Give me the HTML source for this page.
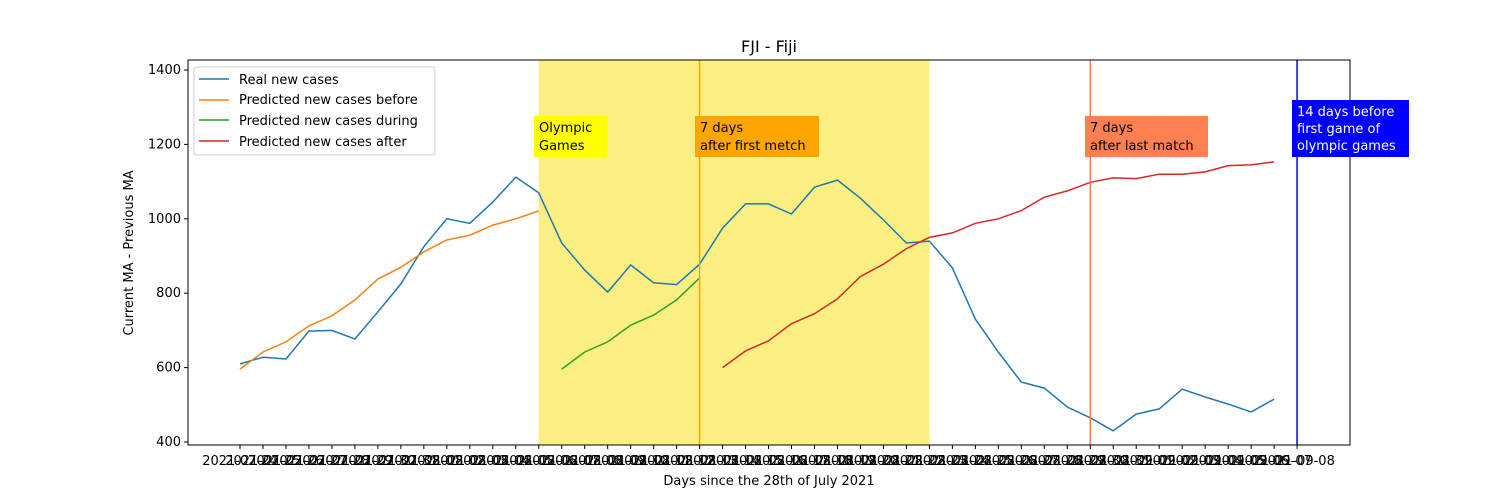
<!DOCTYPE html>
<html><head><meta charset="utf-8"><style>
body{margin:0;background:#fff;}
svg{display:block;font-family:"DejaVu Sans","Liberation Sans",sans-serif;}
</style></head><body>
<svg id="chart" width="1500" height="500">
<g id="bg"></g><g id="lines"></g><g id="axes"></g><g id="ann"></g>
</svg>
<script>
const startDate = "2021-07-24";
const realCases = [610,628,623,698,700,677,750,825,925,1000,988,1045,1112,1070,935,862,803,876,828,823,878,975,1040,1040,1013,1085,1104,1055,997,935,940,868,730,642,561,545,494,465,430,475,489,542,521,502,481,515];
const predBefore = [596,642,669,712,739,782,838,870,911,943,956,983,1000,1021];
const predDuring = [596,642,669,714,741,782,841];
const predAfter = [600,645,672,718,745,785,845,878,920,950,962,988,1000,1022,1058,1075,1098,1110,1108,1120,1120,1126,1143,1145,1153];
const beforeStart = 0, duringStart = 14, afterStart = 21;
const yTicks = [400,600,800,1000,1200,1400];
const olympicSpan = [13,30];
const firstMatchIdx = 20, lastMatchIdx = 37, beforeGamesIdx = 46;
const nTicks = 47;

const NS="http://www.w3.org/2000/svg";
const L=188,R=1350,T=60,B=445;
const X=i=>240+i*22.98;
const Y=v=>442-(v-400)*0.372;
function el(tag,attrs,parent,text){const e=document.createElementNS(NS,tag);for(const k in attrs)e.setAttribute(k,attrs[k]);if(text!==undefined)e.textContent=text;document.getElementById(parent).appendChild(e);return e;}

let e=el('rect',{x:X(olympicSpan[0]),y:T,width:X(olympicSpan[1])-X(olympicSpan[0]),height:B-T,fill:'#fcef82'},'bg');



function series(vals,start,color,name){
  const pts=vals.map((v,i)=>X(start+i).toFixed(1)+','+Y(v).toFixed(1)).join(' ');
  const p=el('polyline',{points:pts,fill:'none',stroke:color,'stroke-width':1.5},'lines');
  
  
}
series(realCases,0,'#1f77b4','real-cases-line');
series(predBefore,beforeStart,'#ff7f0e','predicted-before-line');
series(predDuring,duringStart,'#2ca02c','predicted-during-line');
series(predAfter,afterStart,'#d62728','predicted-after-line');

function vline(i,color,name){const l=el('line',{x1:X(i),x2:X(i),y1:T,y2:B,stroke:color,'stroke-width':1.5},'lines');

}
vline(firstMatchIdx,'#ffa500','first-match-line');
vline(lastMatchIdx,'#ff7f50','last-match-line');
vline(beforeGamesIdx,'#0000ff','before-games-line');

// axes
let f=el('rect',{x:L,y:T,width:R-L,height:B-T,fill:'none',stroke:'#000','stroke-width':1},'axes');


yTicks.forEach(v=>{
  el('line',{x1:L-4,x2:L,y1:Y(v),y2:Y(v),stroke:'#000'},'axes');
  const t=el('text',{x:L-7,y:Y(v)+4,'text-anchor':'end','font-size':13},'axes',v);
  
  
});
const d0=new Date(startDate+"T00:00:00Z");
for(let i=0;i<nTicks;i++){
  el('line',{x1:X(i),x2:X(i),y1:B,y2:B+4,stroke:'#000'},'axes');
  const d=new Date(d0.getTime()+i*86400000).toISOString().slice(0,10);
  const t=el('text',{x:X(i),y:B+20,'text-anchor':'middle','font-size':13},'axes',d);
  
  
}
</script>
<svg width="0" height="0"></svg>
<div style="position:absolute;left:0;top:0;width:1500px;height:500px;pointer-events:none;">
<svg width="1500" height="500" style="position:absolute;left:0;top:0">
<text x="769" y="52" text-anchor="middle" font-size="16" font-family="DejaVu Sans,sans-serif">FJI - Fiji</text>
<text x="769" y="485" text-anchor="middle" font-size="13" font-family="DejaVu Sans,sans-serif">Days since the 28th of July 2021</text>
<text transform="translate(133,253) rotate(-90)" text-anchor="middle" font-size="13" font-family="DejaVu Sans,sans-serif">Current MA - Previous MA</text>
<g font-family="DejaVu Sans,sans-serif" font-size="13">
<rect x="194" y="67" width="241" height="88" rx="3" fill="#fff" fill-opacity="0.8" stroke="#ccc"/>
<line x1="199" x2="229" y1="79" y2="79" stroke="#1f77b4" stroke-width="1.5"/><text x="239" y="84">Real new cases</text>
<line x1="199" x2="229" y1="100" y2="100" stroke="#ff7f0e" stroke-width="1.5"/><text x="239" y="104">Predicted new cases before</text>
<line x1="199" x2="229" y1="120" y2="120" stroke="#2ca02c" stroke-width="1.5"/><text x="239" y="125">Predicted new cases during</text>
<line x1="199" x2="229" y1="141" y2="141" stroke="#d62728" stroke-width="1.5"/><text x="239" y="146">Predicted new cases after</text>
</g>
<g font-family="DejaVu Sans,sans-serif" font-size="13">
<g><rect x="534" y="116" width="73" height="41" fill="#ffff00"/><text x="539" y="132">Olympic</text><text x="539" y="150">Games</text></g>
<g><rect x="695" y="116" width="124" height="41" fill="#ffa500"/><text x="700" y="132">7 days</text><text x="700" y="150">after first metch</text></g>
<g><rect x="1085" y="116" width="123" height="41" fill="#ff7f50"/><text x="1090" y="132">7 days</text><text x="1090" y="150">after last match</text></g>
<g><rect x="1292" y="100" width="117" height="57" fill="#0000ff"/><text x="1297" y="116" fill="#fff">14 days before</text><text x="1297" y="133" fill="#fff">first game of</text><text x="1297" y="150" fill="#fff">olympic games</text></g>
</g>
</svg></div>
</body></html>
